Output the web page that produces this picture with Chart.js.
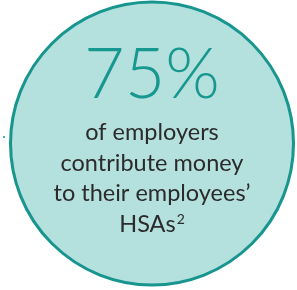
<!DOCTYPE html>
<html>
<head>
<meta charset="utf-8">
<script src="https://cdn.jsdelivr.net/npm/chart.js@4"></script>
<style>
  html, body { margin: 0; padding: 0; background: #ffffff; }
  #wrap { width: 297px; height: 290px; }
</style>
</head>
<body>
<div id="wrap"><canvas id="grafico"></canvas></div>
<script>
// datos
var estadistica = "75%";
var lineas = ["of employers", "contribute money", "to their employees\u2019", "HSAs"];
var nota = "2";
var circulo_x = [152];
var circulo_y = [143.5];
var circulo_r = [141.5];
var punto_x = [4];
var punto_y = [137];

var textoCentro = {
    id: "textoCentro",
    afterDatasetsDraw: function (chart) {
        var ctx = chart.ctx;
        var sx = chart.scales.x, sy = chart.scales.y;
        var cx = sx.getPixelForValue(circulo_x[0]);
        var top = sy.getPixelForValue(circulo_y[0] - circulo_r[0]);
        ctx.save();
        ctx.textAlign = "center";
        ctx.textBaseline = "alphabetic";
        ctx.fillStyle = "#16978f";
        ctx.font = "300 70px Lato, sans-serif";
        ctx.fillText(estadistica, cx, top + 96);
        ctx.fillStyle = "#2b2b2b";
        ctx.font = "23.5px Lato, sans-serif";
        var base = top + 138;
        for (var i = 0; i < lineas.length; i++) {
            var y = base + i * 30.5;
            if (i === lineas.length - 1) {
                var w = ctx.measureText(lineas[i]).width;
                ctx.font = "14px Lato, sans-serif";
                var ws = ctx.measureText(nota).width;
                var x0 = cx - (w + ws + 1) / 2;
                ctx.textAlign = "left";
                ctx.font = "23.5px Lato, sans-serif";
                ctx.fillText(lineas[i], x0, y);
                ctx.font = "14px Lato, sans-serif";
                ctx.fillText(nota, x0 + w + 1, y - 8);
            } else {
                ctx.fillText(lineas[i], cx, y);
            }
        }
        ctx.restore();
    }
};

document.addEventListener("DOMContentLoaded", function () {
    var ctx = document.getElementById("grafico").getContext("2d");
    var myChart = new Chart(ctx, {
        type: "bubble",
        data: {
            datasets: [
                {
                    data: [{ x: circulo_x[0], y: circulo_y[0], r: circulo_r[0] }],
                    backgroundColor: "#b4e0dd",
                    borderColor: "#17958e",
                    borderWidth: 3,
                    hoverRadius: 0,
                    clip: false
                },
                {
                    data: [{ x: punto_x[0], y: punto_y[0], r: 1 }],
                    backgroundColor: "#17958e",
                    borderWidth: 0,
                    clip: false
                }
            ]
        },
        options: {
            responsive: true,
            maintainAspectRatio: false,
            animation: false,
            layout: { padding: 0, autoPadding: false },
            plugins: { legend: { display: false }, tooltip: { enabled: false } },
            scales: {
                x: { type: "linear", min: 0, max: 297, display: false },
                y: { type: "linear", min: 0, max: 290, reverse: true, display: false }
            }
        },
        plugins: [textoCentro]
    });
});
</script>
</body>
</html>
